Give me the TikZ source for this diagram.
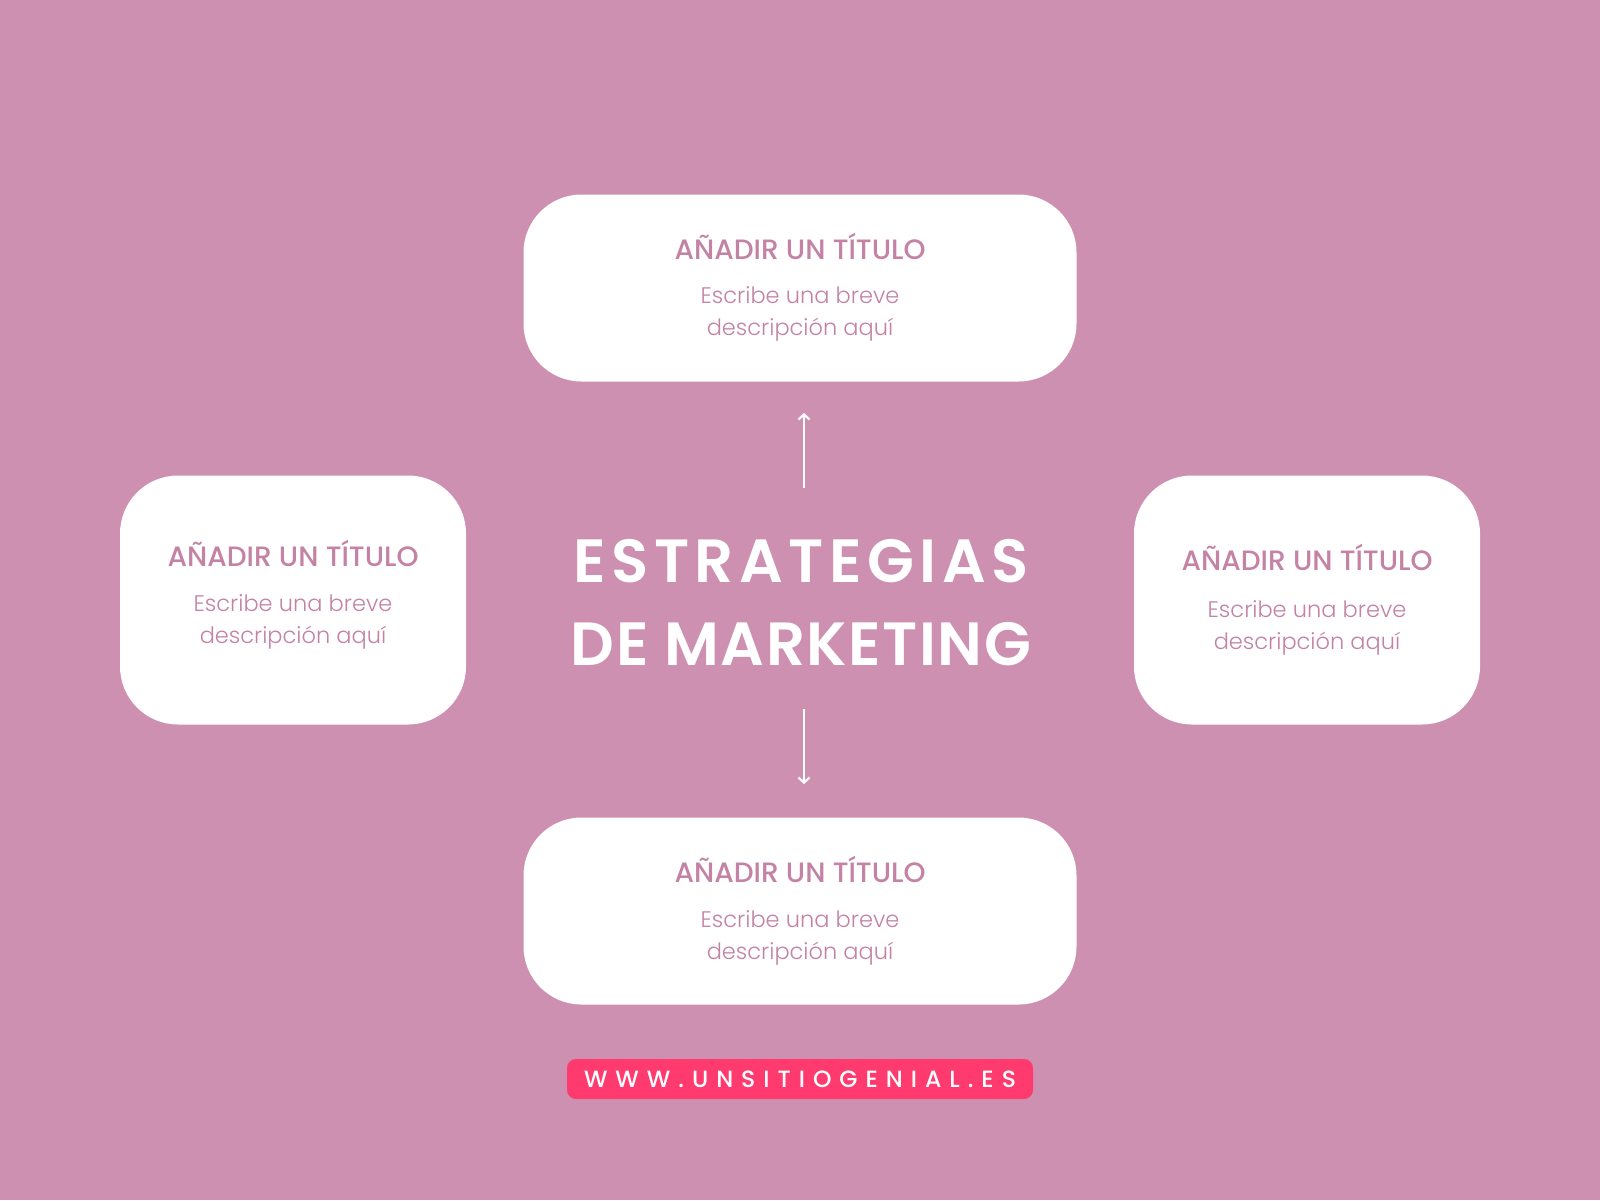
\documentclass[tikz,border=0pt]{standalone}
\usepackage{fontspec}
\setmainfont{Poppins}
\newfontfamily\lightfont{Poppins Light}
\newfontfamily\medfont{Poppins Medium}
\newfontfamily\semifont{Poppins SemiBold}
\usetikzlibrary{arrows.meta}
\definecolor{bgpink}{RGB}{205,144,177}
\definecolor{txtpink}{RGB}{196,130,164}
\definecolor{urlred}{RGB}{255,58,110}
\tikzset{
  card/.style={draw=none,fill=white,rectangle,rounded corners=58pt,inner sep=0pt},
  cardtitle/.style={text=txtpink,font=\medfont\fontsize{28}{32}\selectfont,
    text height=19.5pt,text depth=0pt,inner sep=0pt},
  carddesc/.style={text=txtpink,font=\lightfont\fontsize{22.5}{31.5}\selectfont,
    align=center,inner sep=0pt},
  arr/.style={white,line width=2.2pt,-{Straight Barb[length=5pt,width=11pt]}}
}

\begin{document}
\begin{tikzpicture}[x=1pt,y=-1pt]
  \useasboundingbox (0,0) rectangle (1600,1200);
  \fill[bgpink] (0,0) rectangle (1600,1200);

  %cards with title and short text
  \foreach \n/\x/\y/\w/\h/\ty/\dy in {top/800/288/553/187/38/-26,
      left/293/600/346/249/43/-22, right/1307/600/346/249/39/-28,
      bottom/800/911/553/187/38/-27} {
    \node[card,minimum width=\w pt,minimum height=\h pt] (card-\n) at (\x,\y) {};
    \node[cardtitle] (title-\n) at ([yshift=\ty pt]card-\n.center) {AÑADIR UN TÍTULO};
    \node[carddesc] (desc-\n) at ([yshift=\dy pt]card-\n.center)
      {Escribe una breve\\descripción aquí};
  }

  %heading
  \node[text=white,align=center,inner sep=0pt,
    font=\semifont\fontsize{61}{83}\selectfont] (head) at (801,603)
    {{\addfontfeature{LetterSpace=9}ESTRATEGIAS}\\
     {\addfontfeature{LetterSpace=2.5}DE MARKETING}};

  %arrows up and down
  \coordinate (up-a) at (804,488);
  \coordinate (up-b) at (804,413);
  \coordinate (dn-a) at (804,709);
  \coordinate (dn-b) at (804,784);
  \draw[arr] (up-a) -- (up-b);
  \draw[arr] (dn-a) -- (dn-b);

  %web address
  \node[fill=urlred,rounded corners=9pt,minimum width=466pt,minimum height=40pt,
    inner sep=0pt,text=white,font=\medfont\fontsize{23.5}{26}\selectfont\addfontfeature{LetterSpace=34}]
    (url) at (800,1079) {WWW.UNSITIOGENIAL.ES};
\end{tikzpicture}
\end{document}
